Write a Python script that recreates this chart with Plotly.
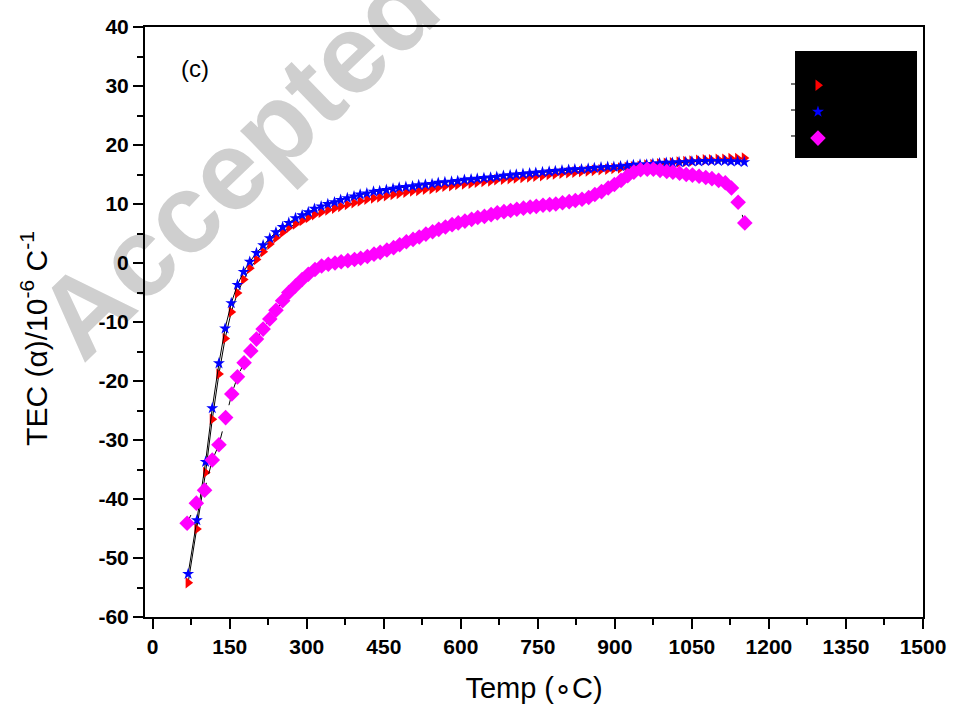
import plotly.graph_objects as go

# ---------------- data ----------------
temp_a = [69, 86, 103, 116, 129, 141, 153, 165, 177, 189, 202, 215, 228, 240, 253, 265,
          278, 291, 303, 315, 328, 341, 354, 366, 379, 392, 404, 417, 430, 442, 455, 468,
          480, 493, 506, 518, 531, 544, 556, 569, 582, 594, 607, 620, 632, 645, 658, 670,
          683, 696, 708, 721, 734, 746, 759, 772, 784, 797, 810, 822, 835, 848, 860, 873,
          886, 898, 911, 924, 936, 949, 962, 974, 987, 1000, 1012, 1025, 1038, 1050, 1063,
          1076, 1088, 1101, 1114, 1126, 1139, 1152]

tec_red = [-54.2, -45.1, -35.5, -26.5, -18.8, -12.8, -8.3, -5.1, -2.8, -0.9, 0.6, 1.9, 3.2, 4.3,
           5.2, 6.0, 6.6, 7.2, 7.7, 8.2, 8.6, 9.0, 9.3, 9.6, 9.9, 10.2, 10.5, 10.8, 11.0, 11.2,
           11.4, 11.6, 11.8, 12.0, 12.2, 12.3, 12.5, 12.6, 12.8, 13.0, 13.1, 13.3, 13.4, 13.5,
           13.7, 13.8, 13.9, 14.1, 14.2, 14.3, 14.4, 14.5, 14.6, 14.7, 14.8, 15.0, 15.1, 15.2,
           15.3, 15.4, 15.5, 15.6, 15.7, 15.8, 15.9, 16.0, 16.1, 16.2, 16.3, 16.4, 16.6, 16.7,
           16.8, 16.9, 17.0, 17.1, 17.2, 17.3, 17.4, 17.5, 17.5, 17.6, 17.6, 17.7, 17.7, 17.8]

tec_blue = [-52.7, -43.6, -33.7, -24.6, -17.0, -11.1, -6.8, -3.7, -1.5, 0.2, 1.7, 3.0, 4.2, 5.2,
            6.1, 6.8, 7.6, 8.1, 8.6, 9.2, 9.6, 10.0, 10.3, 10.7, 11.0, 11.3, 11.6, 11.8, 12.1,
            12.2, 12.4, 12.6, 12.8, 12.9, 13.0, 13.2, 13.3, 13.4, 13.6, 13.7, 13.8, 13.9, 14.1,
            14.2, 14.3, 14.4, 14.5, 14.6, 14.8, 14.9, 15.0, 15.1, 15.2, 15.3, 15.4, 15.5, 15.6,
            15.7, 15.8, 15.9, 15.9, 16.0, 16.1, 16.2, 16.3, 16.3, 16.4, 16.5, 16.6, 16.7, 16.7,
            16.8, 16.9, 17.0, 17.0, 17.1, 17.1, 17.2, 17.2, 17.3, 17.3, 17.3, 17.3, 17.2, 17.2,
            17.1]

temp_m = [67, 85, 101, 116, 129, 142, 154, 165, 178, 191, 202, 215, 228, 240, 253, 265, 278,
          291, 303, 316, 329, 342, 355, 367, 380, 393, 405, 418, 431, 443, 456, 469, 481, 494,
          507, 519, 532, 545, 557, 570, 583, 595, 608, 621, 633, 646, 659, 671, 684, 697, 709,
          722, 735, 747, 760, 773, 785, 798, 811, 823, 836, 849, 861, 874, 887, 899, 912, 925,
          937, 950, 963, 975, 988, 1001, 1013, 1026, 1039, 1051, 1064, 1077, 1089, 1102, 1115,
          1127, 1140, 1153]

tec_m = [-44.1, -40.7, -38.5, -33.4, -30.8, -26.2, -22.2, -19.3, -16.9, -14.9, -12.9, -11.2,
         -9.5, -8.0, -6.4, -5.0, -3.9, -2.8, -1.9, -1.1, -0.5, -0.2, 0.0, 0.2, 0.4, 0.6, 0.8,
         1.1, 1.5, 1.8, 2.2, 2.6, 3.1, 3.6, 4.0, 4.4, 4.9, 5.3, 5.7, 6.1, 6.5, 6.8, 7.1, 7.4,
         7.7, 7.9, 8.2, 8.5, 8.7, 8.9, 9.1, 9.3, 9.5, 9.6, 9.8, 9.9, 10.0, 10.2, 10.4, 10.6,
         10.8, 11.1, 11.6, 12.1, 12.7, 13.3, 14.0, 14.8, 15.4, 15.8, 15.9, 15.9, 15.7, 15.5,
         15.4, 15.2, 15.0, 14.9, 14.7, 14.5, 14.3, 14.0, 13.6, 12.7, 10.3, 6.8]

series_names = ["x = 0.00", "x = 0.05", "x = 0.10"]
x_tickvals = [0, 150, 300, 450, 600, 750, 900, 1050, 1200, 1350, 1500]
x_ticktext = ["0", "150", "300", "450", "600", "750", "900", "1050", "1200", "1350", "1500"]
y_tickvals = [-60, -50, -40, -30, -20, -10, 0, 10, 20, 30, 40]
y_ticktext = ["-60", "-50", "-40", "-30", "-20", "-10", "0", "10", "20", "30", "40"]

# ---------------- figure ----------------
fig = go.Figure()

fig.add_trace(go.Scatter(
    x=temp_a, y=tec_red, name=series_names[0], mode="lines+markers",
    line=dict(color="black", width=1),
    marker=dict(symbol="triangle-right", size=10, color="#ff0000", line=dict(width=0)),
))
fig.add_trace(go.Scatter(
    x=temp_a, y=tec_blue, name=series_names[1], mode="lines+markers",
    line=dict(color="black", width=1),
    marker=dict(symbol="star", size=9, color="#0000ff", line=dict(width=0)),
))
fig.add_trace(go.Scatter(
    x=temp_m, y=tec_m, name=series_names[2], mode="lines+markers",
    line=dict(color="black", width=1, dash="dash"),
    marker=dict(symbol="diamond", size=12, color="#ff00ff", line=dict(width=0)),
))

tickfont = dict(family="Arial", size=21, color="black", weight="bold")
axis_common = dict(
    showline=True, linewidth=2, linecolor="black", mirror=True,
    ticks="outside", ticklen=10, tickwidth=2, tickcolor="black",
    showgrid=False, zeroline=False, tickfont=tickfont, automargin=False,
)

fig.update_xaxes(
    range=[-15, 1500], tickvals=x_tickvals, ticktext=x_ticktext,
    minor=dict(dtick=75, tick0=0, ticks="outside", ticklen=6, tickwidth=2, tickcolor="black"),
    title=dict(text="Temp (\u2218C)", font=dict(family="Arial", size=29, color="black"), standoff=20),
    **axis_common,
)
fig.update_yaxes(
    range=[-60, 40], tickvals=y_tickvals, ticktext=y_ticktext,
    minor=dict(dtick=5, tick0=0, ticks="outside", ticklen=6, tickwidth=2, tickcolor="black"),
    **axis_common,
)

# y-axis title (placed as a rotated annotation so it sits where the reference has it)
fig.add_annotation(
    xref="paper", yref="paper", x=-0.1427, y=0.473, xanchor="center", yanchor="middle",
    text="TEC (\u03b1)/10<sup>-6</sup> C<sup>-1</sup>", textangle=-90, showarrow=False,
    font=dict(family="Arial", size=30, color="black"),
)

# watermark behind the data, drawn as a shape label on the lower layer
fig.add_shape(
    type="rect", xref="paper", yref="paper",
    x0=-0.1107, x1=0.3293, y0=0.5347, y1=1.0347, layer="below",
    line=dict(width=0), fillcolor="rgba(0,0,0,0)",
    label=dict(text="Accepted", textangle=-44, textposition="middle center",
               font=dict(family="Liberation Sans", size=112, color="rgb(207,207,207)",
                         weight="bold")),
)

# black legend panel
fig.add_shape(
    type="rect", xref="paper", yref="paper",
    x0=0.8355, x1=0.9923, y0=0.778, y1=0.9593, layer="above",
    line=dict(width=0), fillcolor="black",
)
# short legend line stubs peeking out to the left of the panel
for yy in (0.9034, 0.8593, 0.8153):
    fig.add_shape(
        type="line", xref="paper", yref="paper",
        x0=0.8303, x1=0.8355, y0=yy, y1=yy, layer="above",
        line=dict(color="#444444", width=1.5),
    )

fig.add_annotation(
    x=82, y=33, xref="x", yref="y", text="(c)", showarrow=False,
    font=dict(family="Arial", size=24, color="black"),
)

fig.update_layout(
    width=954, height=709,
    margin=dict(l=145, r=31, t=27, b=92),
    paper_bgcolor="white", plot_bgcolor="white",
    showlegend=True,
    legend=dict(
        x=0.8393, y=0.932, xanchor="left", yanchor="top",
        bgcolor="rgba(0,0,0,0)", font=dict(family="Arial", size=18, color="black"),
        borderwidth=0,
    ),
)

fig.write_html("out.html", config={"displayModeBar": False},
               post_script="document.body.style.margin='0px';")
